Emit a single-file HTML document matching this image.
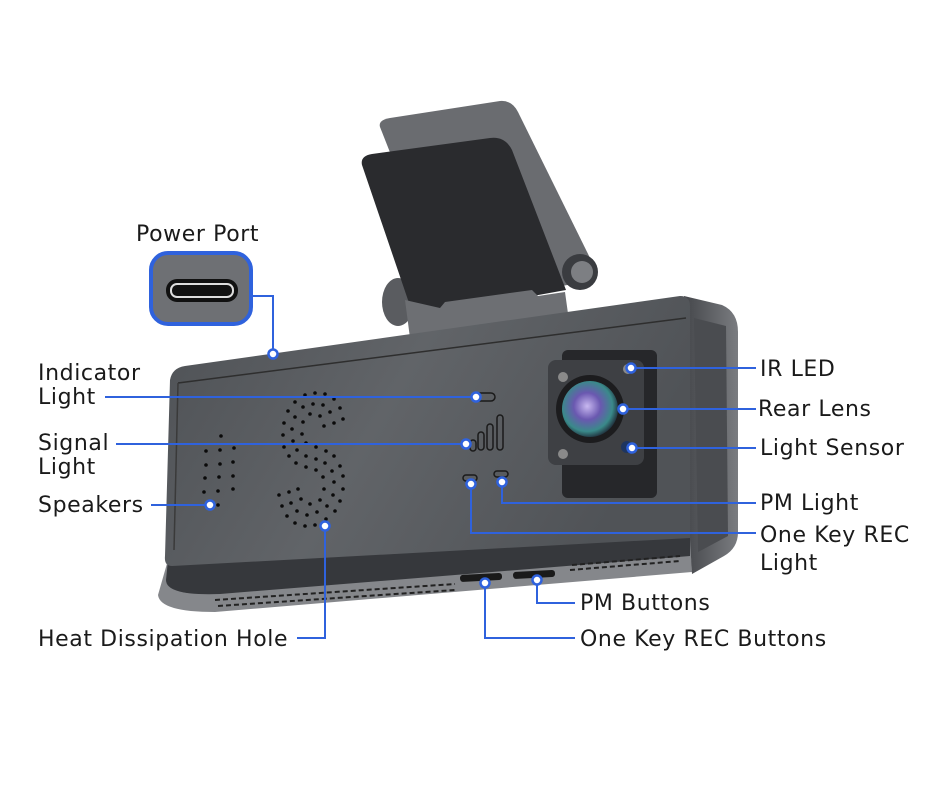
<!DOCTYPE html>
<html><head><meta charset="utf-8"><style>
html,body{margin:0;padding:0;background:#fff;}
svg{display:block;}
text{font-family:"DejaVu Sans","Liberation Sans",sans-serif;font-size:22px;letter-spacing:0.6px;fill:#1a1a1a;}
</style></head><body>
<svg width="940" height="788" viewBox="0 0 940 788" xmlns="http://www.w3.org/2000/svg">
<defs>
<linearGradient id="face" x1="0" y1="0" x2="1" y2="0.3">
<stop offset="0" stop-color="#4e5155"/><stop offset="0.5" stop-color="#616468"/><stop offset="1" stop-color="#505357"/></linearGradient>
<linearGradient id="side" x1="0" y1="0" x2="1" y2="0">
<stop offset="0" stop-color="#45474b"/><stop offset="1" stop-color="#7a7c80"/></linearGradient>
<radialGradient id="lens" cx="0.45" cy="0.45" r="0.6">
<stop offset="0" stop-color="#c8b8f0"/><stop offset="0.4" stop-color="#6a58b0"/><stop offset="0.75" stop-color="#3a8a8a"/><stop offset="1" stop-color="#1b1b2a"/></radialGradient>
</defs>

<!-- mount -->
<ellipse cx="398" cy="302" rx="16" ry="24" fill="#5a5c60"/>
<path d="M380,127 Q378,120 390,118 L500,101 Q512,100 518,112 L592,262 Q596,275 585,282 L450,305 Z" fill="#6a6c70"/>
<path d="M362,165 Q360,156 372,154 L490,138 Q505,136 512,150 L566,290 L444,312 Q412,312 408,300 Z" fill="#2a2b2e"/>
<path d="M405,300 L440,308 L445,302 L532,290 L538,296 L565,292 L570,328 L410,338 Z" fill="#6d6f73"/>
<circle cx="580" cy="272" r="18" fill="#3a3c40"/>
<circle cx="582" cy="272" r="11" fill="#7d7f83"/>

<!-- body bottom strip -->
<path d="M168,560 L690,530 L692,572 L215,612 Q160,612 158,595 Z" fill="#85878b"/>
<path d="M168,560 L690,530 L690,556 L220,594 Q166,596 166,580 Z" fill="#36383c"/>
<!-- right side -->
<path d="M684,296 L722,305 Q738,312 738,332 L738,532 Q738,548 724,556 L692,574 L690,540 Z" fill="url(#side)"/>
<path d="M694,318 L726,326 L728,536 L698,552 Z" fill="#4a4c50"/>
<!-- front face -->
<path d="M185,366 L680,296 Q690,296 690,306 L690,538 L172,566 Q164,566 165,556 L170,380 Q172,368 185,366 Z" fill="url(#face)"/>
<path d="M178,383 L686,318" stroke="#2e2e2e" stroke-width="1.5" fill="none"/>
<path d="M178,383 L174,550" stroke="#3a3a3a" stroke-width="1.5" fill="none"/>

<!-- bottom slits -->
<g stroke="#222" stroke-width="2" stroke-dasharray="5,3">
<path d="M215,600 L455,584"/><path d="M218,606 L455,590"/>
<path d="M570,570 L680,561"/><path d="M572,565 L680,556"/>
</g>
<rect x="460" y="574" width="42" height="7" rx="3" fill="#1a1a1a" transform="rotate(-3 480 577)"/>
<rect x="513" y="571" width="42" height="7" rx="3" fill="#1a1a1a" transform="rotate(-3 533 574)"/>

<!-- camera module -->
<rect x="562" y="350" width="95" height="148" rx="6" fill="#26272a"/>
<rect x="548" y="360" width="96" height="105" rx="8" fill="#3e4044"/>
<circle cx="590" cy="409" r="34" fill="#1c1c1e"/>
<circle cx="590" cy="409" r="28" fill="url(#lens)"/>
<circle cx="563" cy="377" r="5" fill="#8a8a8a"/>
<circle cx="628" cy="369" r="5" fill="#8a8a8a"/>
<circle cx="563" cy="454" r="5" fill="#8a8a8a"/>
<circle cx="627" cy="447" r="6" fill="#1e3560"/>

<rect x="473" y="393" width="22" height="8" rx="4" fill="none" stroke="#1a1a1a" stroke-width="1.5"/>
<g fill="none" stroke="#1a1a1a" stroke-width="1.5">
<rect x="470" y="440" width="6" height="11" rx="3"/>
<rect x="478" y="432" width="6" height="18" rx="3"/>
<rect x="487" y="424" width="6" height="26" rx="3"/>
<rect x="497" y="415" width="6" height="35" rx="3"/>
<rect x="463" y="475" width="14" height="6" rx="3"/>
<rect x="494" y="471" width="14" height="6" rx="3"/>
</g>

<g fill="#0a0a0a">
<circle cx="221" cy="436" r="1.8"/><circle cx="206" cy="451" r="1.8"/><circle cx="220" cy="450" r="1.8"/><circle cx="234" cy="448" r="1.8"/>
<circle cx="206" cy="465" r="1.8"/><circle cx="220" cy="464" r="1.8"/><circle cx="233" cy="462" r="1.8"/>
<circle cx="205" cy="478" r="1.8"/><circle cx="219" cy="477" r="1.8"/><circle cx="233" cy="476" r="1.8"/>
<circle cx="204" cy="492" r="1.8"/><circle cx="218" cy="491" r="1.8"/><circle cx="233" cy="489" r="1.8"/><circle cx="218" cy="505" r="1.8"/>
<circle cx="305" cy="395" r="1.8"/><circle cx="315" cy="393" r="1.8"/><circle cx="325" cy="394" r="1.8"/><circle cx="295" cy="402" r="1.8"/><circle cx="334" cy="399" r="1.8"/>
<circle cx="303" cy="407" r="1.8"/><circle cx="313" cy="404" r="1.8"/><circle cx="323" cy="405" r="1.8"/><circle cx="340" cy="408" r="1.8"/><circle cx="288" cy="411" r="1.8"/>
<circle cx="330" cy="412" r="1.8"/><circle cx="295" cy="417" r="1.8"/><circle cx="310" cy="414" r="1.8"/><circle cx="320" cy="416" r="1.8"/><circle cx="343" cy="419" r="1.8"/>
<circle cx="284" cy="423" r="1.8"/><circle cx="303" cy="422" r="1.8"/><circle cx="334" cy="423" r="1.8"/><circle cx="324" cy="426" r="1.8"/><circle cx="292" cy="429" r="1.8"/>
<circle cx="283" cy="435" r="1.8"/><circle cx="302" cy="434" r="1.8"/><circle cx="293" cy="441" r="1.8"/><circle cx="306" cy="443" r="1.8"/><circle cx="284" cy="447" r="1.8"/>
<circle cx="297" cy="450" r="1.8"/><circle cx="316" cy="447" r="1.8"/><circle cx="326" cy="451" r="1.8"/><circle cx="289" cy="456" r="1.8"/><circle cx="306" cy="456" r="1.8"/>
<circle cx="316" cy="459" r="1.8"/><circle cx="334" cy="456" r="1.8"/><circle cx="296" cy="463" r="1.8"/><circle cx="325" cy="463" r="1.8"/><circle cx="340" cy="466" r="1.8"/>
<circle cx="306" cy="467" r="1.8"/><circle cx="316" cy="470" r="1.8"/><circle cx="332" cy="471" r="1.8"/><circle cx="323" cy="477" r="1.8"/><circle cx="343" cy="476" r="1.8"/>
<circle cx="334" cy="482" r="1.8"/><circle cx="298" cy="489" r="1.8"/><circle cx="289" cy="492" r="1.8"/><circle cx="324" cy="489" r="1.8"/><circle cx="343" cy="489" r="1.8"/>
<circle cx="279" cy="495" r="1.8"/><circle cx="301" cy="499" r="1.8"/><circle cx="333" cy="495" r="1.8"/><circle cx="320" cy="500" r="1.8"/><circle cx="291" cy="503" r="1.8"/>
<circle cx="310" cy="504" r="1.8"/><circle cx="340" cy="501" r="1.8"/><circle cx="282" cy="506" r="1.8"/><circle cx="327" cy="506" r="1.8"/><circle cx="297" cy="511" r="1.8"/>
<circle cx="317" cy="512" r="1.8"/><circle cx="335" cy="511" r="1.8"/><circle cx="287" cy="516" r="1.8"/><circle cx="307" cy="515" r="1.8"/><circle cx="326" cy="519" r="1.8"/>
<circle cx="295" cy="523" r="1.8"/><circle cx="305" cy="526" r="1.8"/><circle cx="315" cy="525" r="1.8"/>
</g>

<rect x="151" y="253" width="100" height="71" rx="17" fill="#6e7074" stroke="#2f62dd" stroke-width="4"/>
<rect x="166" y="279" width="72" height="23" rx="11" fill="#111"/>
<rect x="171" y="284" width="62" height="13" rx="6" fill="none" stroke="#ddd" stroke-width="2"/>

<g stroke="#2f62dd" stroke-width="2" fill="none">
<path d="M253,296 L273,296 L273,354"/>
<path d="M105,397 L476,397"/>
<path d="M116,444 L466,444"/>
<path d="M151,505 L210,505"/>
<path d="M297,638 L325,638 L325,526"/>
<path d="M631,368 L756,368"/>
<path d="M623,409 L756,409"/>
<path d="M632,448 L756,448"/>
<path d="M502,482 L502,503 L756,503"/>
<path d="M471,484 L471,533 L756,533"/>
<path d="M537,580 L537,603 L575,603"/>
<path d="M485,583 L485,638 L575,638"/>
</g>
<g fill="#fff" stroke="#2f62dd" stroke-width="2.5">
<circle cx="273" cy="354" r="4.5"/><circle cx="476" cy="397" r="4.5"/><circle cx="466" cy="444" r="4.5"/>
<circle cx="210" cy="505" r="4.5"/><circle cx="325" cy="526" r="4.5"/><circle cx="631" cy="368" r="4.5"/>
<circle cx="623" cy="409" r="4.5"/><circle cx="632" cy="448" r="4.5"/><circle cx="502" cy="482" r="4.5"/>
<circle cx="471" cy="484" r="4.5"/><circle cx="537" cy="580" r="4.5"/><circle cx="485" cy="583" r="4.5"/>
</g>

<text x="136" y="241">Power Port</text>
<text x="38" y="380">Indicator</text>
<text x="38" y="404">Light</text>
<text x="38" y="450">Signal</text>
<text x="38" y="474">Light</text>
<text x="38" y="512">Speakers</text>
<text x="38" y="646">Heat Dissipation Hole</text>
<text x="760" y="376">IR LED</text>
<text x="758" y="416">Rear Lens</text>
<text x="760" y="455">Light Sensor</text>
<text x="760" y="510">PM Light</text>
<text x="760" y="542">One Key REC</text>
<text x="760" y="570">Light</text>
<text x="580" y="610">PM Buttons</text>
<text x="580" y="646">One Key REC Buttons</text>
</svg>
</body></html>
